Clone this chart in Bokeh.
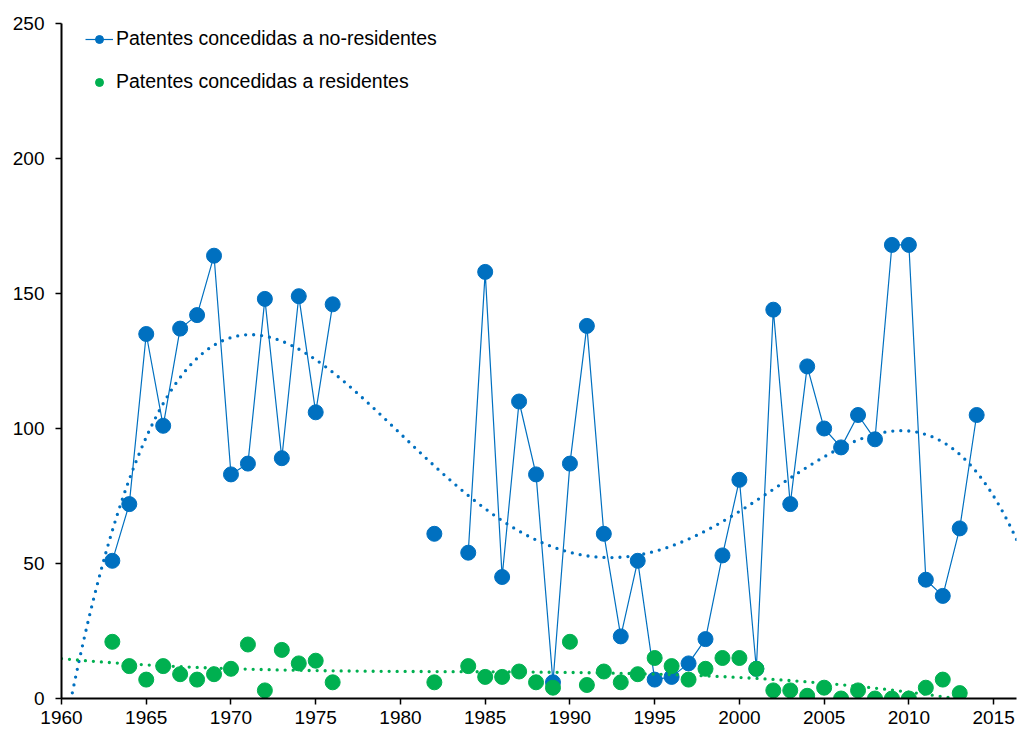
import numpy as np
from bokeh.plotting import figure
from bokeh.models import Range1d, FixedTicker, Legend, LegendItem
from bokeh.embed import file_html
from bokeh.resources import INLINE

BLUE = "#0070C0"
GREEN = "#00B050"
FONT = "Liberation Sans"

years = list(range(1963, 2015))
# NaN = no data
no_residentes = [51, 72, 135, 101, 137, 142, 164, 83, 87, 148, 89, 149, 106, 146,
                 np.nan, np.nan, np.nan, np.nan, np.nan, 61, np.nan,
                 54, 158, 45, 110, 83, 6, 87, 138, 61, 23, 51, 7, 8, 13, 22, 53, 81, 11,
                 144, 72, 123, 100, 93, 105, 96, 168, 168, 44, 38, 63, 105]
residentes = [21, 12, 7, 12, 9, 7, 9, 11, 20, 3, 18, 13, 14, 6,
              np.nan, np.nan, np.nan, np.nan, np.nan, 6, np.nan,
              12, 8, 8, 10, 6, 4, 21, 5, 10, 6, 9, 15, 12, 7, 11, 15, 15, 11,
              3, 3, 1, 4, 0, 3, 0, 0, 0, 4, 7, 2, np.nan]
x_ticks = list(range(1960, 2016, 5))
y_ticks = [0, 50, 100, 150, 200, 250]

X0, X1 = 1960, 2016.35

yr = np.array(years, dtype=float)
nr = np.array(no_residentes, dtype=float)
rs = np.array(residentes, dtype=float)

p = figure(width=1017, height=731, output_backend="svg", toolbar_location=None,
           x_range=Range1d(X0, X1), y_range=Range1d(0, 250),
           min_border_left=61, min_border_right=1, min_border_top=23, min_border_bottom=33)
p.outline_line_color = None
p.xgrid.visible = False
p.ygrid.visible = False
p.background_fill_color = "white"
p.border_fill_color = "white"

for ax, ticks in ((p.xaxis[0], x_ticks), (p.yaxis[0], y_ticks)):
    ax.ticker = FixedTicker(ticks=ticks)
    ax.minor_tick_line_color = None
    ax.axis_line_width = 2
    ax.axis_line_color = "black"
    ax.major_tick_line_color = "black"
    ax.major_tick_line_width = 1.5
    ax.major_tick_in = 0
    ax.major_tick_out = 6
    ax.major_label_text_font = FONT
    ax.major_label_text_font_size = "19px"
    ax.major_label_text_color = "black"
p.xaxis[0].major_label_standoff = 6
p.yaxis[0].major_label_standoff = 11

# blue series
p.line(yr, nr, line_color=BLUE, line_width=1.2)
p.scatter(yr, nr, size=15, fill_color=BLUE, line_color=BLUE)
# green series
p.scatter(yr, rs, size=15, fill_color=GREEN, line_color=GREEN)

# polynomial trend lines fitted to the data
xs = np.linspace(X0, X1, 400)
mb = ~np.isnan(nr)
cb = np.polyfit(yr[mb] - 1960, nr[mb], 4)
mg = ~np.isnan(rs)
cg = np.polyfit(yr[mg] - 1960, rs[mg], 3)
p.line(xs, np.polyval(cb, xs - 1960), line_color=BLUE, line_width=3.3,
       line_dash="0 8", line_cap="round")
p.line(xs, np.polyval(cg, xs - 1960), line_color=GREEN, line_width=3.3,
       line_dash="0 8", line_cap="round")

# legend-only glyphs
lb_line = p.line([np.nan], [np.nan], line_color=BLUE, line_width=1.2)
lb_dot = p.scatter([np.nan], [np.nan], size=11, fill_color=BLUE, line_color=BLUE)
lg_dot = p.scatter([np.nan], [np.nan], size=11, fill_color=GREEN, line_color=GREEN)
legend = Legend(items=[
    LegendItem(label="Patentes concedidas a no-residentes", renderers=[lb_line, lb_dot]),
    LegendItem(label="Patentes concedidas a residentes", renderers=[lg_dot]),
], location=(24, 605))
legend.background_fill_alpha = 0
legend.border_line_color = None
legend.padding = 0
legend.margin = 0
legend.spacing = 20
legend.glyph_width = 28
legend.glyph_height = 20
legend.label_height = 20
legend.label_standoff = 3
legend.label_text_font = FONT
legend.label_text_font_size = "19.5px"
legend.label_text_color = "black"
p.add_layout(legend)

open("out.html", "w").write(file_html(p, INLINE))
